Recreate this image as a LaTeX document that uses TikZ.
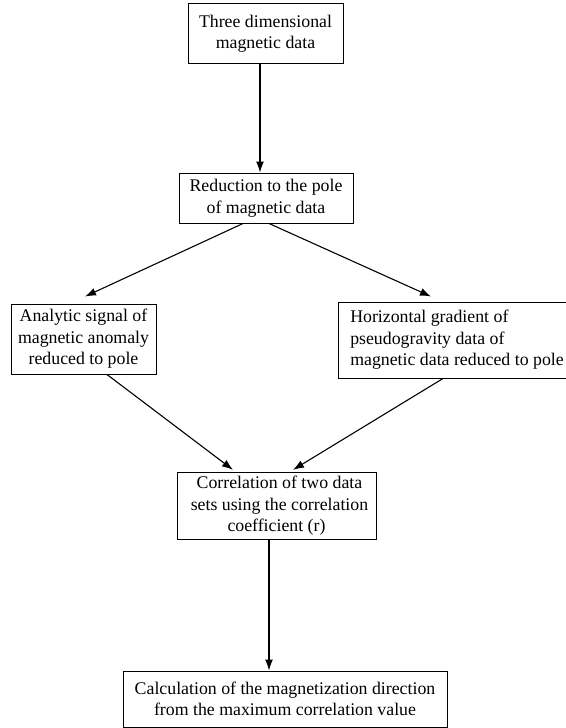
\documentclass[tikz,border=0pt]{standalone}
\usepackage{fontspec}
\setmainfont{Liberation Serif}
\usetikzlibrary{arrows.meta, positioning}
\tikzset{
  caja/.style={rectangle, draw=black, line width=1pt, text centered, align=center,
               font=\fontsize{17.8}{21.5}\selectfont, inner sep=4pt},
  cajaizq/.style={rectangle, draw=black, line width=1pt, align=left,
               font=\fontsize{17.8}{21.5}\selectfont, inner sep=4pt},
  flecha/.style={line width=1.1pt, -{Latex[length=11pt,width=8pt]}, color=black}
}
\begin{document}
\begin{tikzpicture}[x=1pt,y=-1pt]
  \useasboundingbox (0,0) rectangle (565,728);
  \node (datos) [caja, minimum width=155pt, minimum height=60pt] at (265.5,33.5) {Three dimensional\\ magnetic data};
  \node (reduc) [caja, minimum width=174pt, minimum height=50pt] at (266,198) {Reduction to the pole\\ of magnetic data};
  \node (senal) [caja, minimum width=145pt, minimum height=70pt] at (83.5,339) {Analytic signal of\\ magnetic anomaly\\ reduced to pole};
  % la caja sigue fuera del borde derecho
  \node (grad) [cajaizq, minimum width=238pt, minimum height=76pt] at (457,340) {Horizontal gradient of\\ pseudogravity data of\\ magnetic data reduced to pole};
  \node (corr) [caja, minimum width=199pt, minimum height=66pt] at (276.5,506) {\hspace*{6pt}Correlation of two data\\ \hspace*{6pt}sets using the correlation\\ coefficient (r)};
  \node (calc) [caja, minimum width=324pt, minimum height=56pt] at (285,699) {Calculation of the magnetization direction\\ from the maximum correlation value};
  \coordinate (p1) at ([xshift=-5.5pt]datos.south);
  \coordinate (p2) at ([xshift=-7.5pt]corr.south);
  \draw [flecha] (p1) -- (p1 |- reduc.north);
  \draw [flecha] ([xshift=-23pt]reduc.south) -- ([xshift=1.5pt,yshift=7pt]senal.north);
  \draw [flecha] ([xshift=3pt]reduc.south) -- ([xshift=-26pt,yshift=5pt]grad.north);
  \draw [flecha] ([xshift=23.5pt]senal.south) -- ([xshift=-43.5pt,yshift=2pt]corr.north);
  \draw [flecha] ([xshift=-14pt]grad.south) -- ([xshift=16.5pt,yshift=2pt]corr.north);
  \draw [flecha] (p2) -- (p2 |- calc.north);
\end{tikzpicture}
\end{document}
